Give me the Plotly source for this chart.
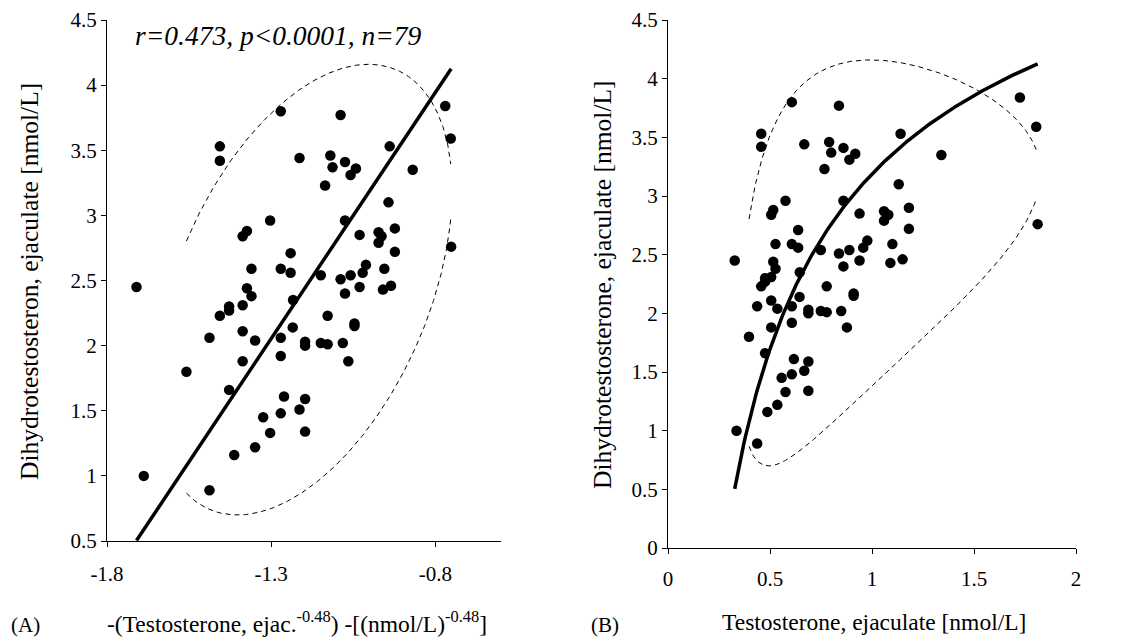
import numpy as np
import plotly.graph_objects as go

# ---------------- data ----------------
# Testosterone in ejaculate [nmol/L]
T_EJAC = [0.327, 0.457, 0.457, 0.607, 0.668, 0.576, 0.506, 0.516, 0.527, 0.607,
          0.638, 0.638, 0.516, 0.527, 0.646, 0.506, 0.476, 0.476, 0.457, 0.749,
          0.838, 0.790, 0.800, 0.767, 0.860, 0.918, 0.889, 1.140, 1.340, 1.725,
          1.805, 1.812, 0.860, 1.131, 0.939, 1.059, 1.080, 1.059, 1.181, 1.181,
          0.977, 0.957, 1.100, 0.838, 0.889, 0.939, 0.860, 1.090, 1.150, 0.778,
          0.910, 0.910, 0.437, 0.506, 0.536, 0.607, 0.645, 0.688, 0.688, 0.749,
          0.778, 0.849, 0.877, 0.397, 0.506, 0.607, 0.476, 0.617, 0.688, 0.668,
          0.607, 0.557, 0.576, 0.688, 0.536, 0.487, 0.336, 0.437]
# Dihydrotestosterone in ejaculate [nmol/L]
DHT_EJAC = [2.45, 3.53, 3.42, 3.80, 3.44, 2.96, 2.84, 2.88, 2.59, 2.59,
            2.71, 2.56, 2.44, 2.38, 2.35, 2.31, 2.30, 2.27, 2.23, 2.54,
            3.77, 3.46, 3.37, 3.23, 3.41, 3.36, 3.31, 3.53, 3.35, 3.84,
            3.59, 2.76, 2.96, 3.10, 2.85, 2.87, 2.84, 2.79, 2.90, 2.72,
            2.62, 2.56, 2.59, 2.51, 2.54, 2.45, 2.40, 2.43, 2.46, 2.23,
            2.17, 2.15, 2.06, 2.11, 2.04, 2.06, 2.14, 2.03, 2.00, 2.02,
            2.01, 2.02, 1.88, 1.80, 1.88, 1.92, 1.66, 1.61, 1.59, 1.51,
            1.48, 1.45, 1.33, 1.34, 1.22, 1.16, 1.00, 0.89]

POWER = -0.48                     # transform used on panel A's x axis

# regression line in transformed space: DHT = FIT_INTERCEPT + FIT_SLOPE * x
FIT_SLOPE = 3.78
FIT_INTERCEPT = 6.968
FIT_T_RANGE = [0.327, 1.812]

# prediction ellipse in transformed space
ELL_CX, ELL_CY = -1.203, 2.43
ELL_A, ELL_B, ELL_RHO = 0.454, 1.73, 0.44
ELL_T_RANGE = [0.397, 1.805]

# tick labels
A_XTICKS = [-1.8, -1.3, -0.8]
A_XTEXT = ["-1.8", "-1.3", "-0.8"]
A_YTICKS = [0.5, 1, 1.5, 2, 2.5, 3, 3.5, 4, 4.5]
A_YTEXT = ["0.5", "1", "1.5", "2", "2.5", "3", "3.5", "4", "4.5"]
B_XTICKS = [0, 0.5, 1, 1.5, 2]
B_XTEXT = ["0", "0.5", "1", "1.5", "2"]
B_YTICKS = [0, 0.5, 1, 1.5, 2, 2.5, 3, 3.5, 4, 4.5]
B_YTEXT = ["0", "0.5", "1", "1.5", "2", "2.5", "3", "3.5", "4", "4.5"]

# ---------------- derived curves ----------------
t = np.asarray(T_EJAC)
xa = -(t ** POWER)

t_fit = np.linspace(FIT_T_RANGE[0], FIT_T_RANGE[1], 200)
x_fit = -(t_fit ** POWER)
y_fit = FIT_INTERCEPT + FIT_SLOPE * x_fit

t_ell = np.linspace(ELL_T_RANGE[0], ELL_T_RANGE[1], 300)
x_ell = -(t_ell ** POWER)
u = (x_ell - ELL_CX) / ELL_A
root = np.sqrt(np.clip((1 - ELL_RHO ** 2) * (1 - u ** 2), 0, None))
y_up = ELL_CY + ELL_B * (ELL_RHO * u + root)
y_lo = ELL_CY + ELL_B * (ELL_RHO * u - root)

FONT = "Liberation Serif"
W, H = 1128, 640

fig = go.Figure()
dash_style = dict(color="black", width=1, dash="5px,4px")
marker = dict(color="black", size=10.5, line=dict(width=0))

# panel A
fig.add_trace(go.Scatter(x=x_ell, y=y_up, mode="lines", line=dash_style, xaxis="x", yaxis="y"))
fig.add_trace(go.Scatter(x=x_ell, y=y_lo, mode="lines", line=dash_style, xaxis="x", yaxis="y"))
fig.add_trace(go.Scatter(x=xa, y=DHT_EJAC, mode="markers", marker=marker, xaxis="x", yaxis="y"))
fig.add_trace(go.Scatter(x=x_fit, y=y_fit, mode="lines", line=dict(color="black", width=3.5),
                         xaxis="x", yaxis="y"))
# panel B
fig.add_trace(go.Scatter(x=t_ell, y=y_up, mode="lines", line=dash_style, xaxis="x2", yaxis="y2"))
fig.add_trace(go.Scatter(x=t_ell, y=y_lo, mode="lines", line=dash_style, xaxis="x2", yaxis="y2"))
fig.add_trace(go.Scatter(x=T_EJAC, y=DHT_EJAC, mode="markers", marker=marker, xaxis="x2", yaxis="y2"))
fig.add_trace(go.Scatter(x=t_fit, y=y_fit, mode="lines", line=dict(color="black", width=3.5),
                         xaxis="x2", yaxis="y2"))

axis_common = dict(showline=True, linecolor="black", linewidth=1, showgrid=False,
                   zeroline=False, ticks="outside", ticklen=5, tickwidth=1, tickcolor="black",
                   tickfont=dict(family=FONT, size=21, color="black"), automargin=False,
                   ticklabeloverflow="allow")

fig.update_layout(
    width=W, height=H, margin=dict(l=0, r=0, t=0, b=0),
    font=dict(family=FONT, color="black"),
    paper_bgcolor="white", plot_bgcolor="white", showlegend=False,
    xaxis=dict(domain=[99 / W, 493 / W], range=[-1.8, -0.6], tickvals=A_XTICKS,
               ticktext=A_XTEXT, anchor="y", ticklabelstandoff=9, **axis_common),
    yaxis=dict(domain=[1 - 533 / H, 1 - 12 / H], range=[0.5, 4.5], tickvals=A_YTICKS,
               ticktext=A_YTEXT, anchor="x", **axis_common),
    xaxis2=dict(domain=[660 / W, 1068 / W], range=[0, 2], tickvals=B_XTICKS,
                ticktext=B_XTEXT, anchor="y2", ticklabelstandoff=7, **axis_common),
    yaxis2=dict(domain=[1 - 540 / H, 1 - 12 / H], range=[0, 4.5], tickvals=B_YTICKS,
                ticktext=B_YTEXT, anchor="x2", **axis_common),
)

def ann(text, px, py, size=23, angle=0, xanchor="center", italic=False):
    fig.add_annotation(text=text, x=px / W, y=1 - py / H, xref="paper", yref="paper",
                       showarrow=False, textangle=angle, xanchor=xanchor, yanchor="middle",
                       font=dict(family=FONT, size=size, color="black",
                                 style="italic" if italic else "normal"))

ann("Dihydrotestosteron, ejaculate [nmol/L]", 21, 274, size=25.5, angle=-90)
ann("Dihydrotestosterone, ejaculate [nmol/L]", 594, 277, size=25.5, angle=-90)
ann("-(Testosterone, ejac.<sup>-0.48</sup>) -[(nmol/L)<sup>-0.48</sup>]", 289, 614, size=23.5)
ann("Testosterone, ejaculate [nmol/L]", 866, 614, size=23.5)
ann("(A)", 17, 617, size=21)
ann("(B)", 597, 617, size=21)
ann("r=0.473, p<0.0001, n=79", 125, 27, size=27.5, xanchor="left", italic=True)

fig.write_html("out.html")
